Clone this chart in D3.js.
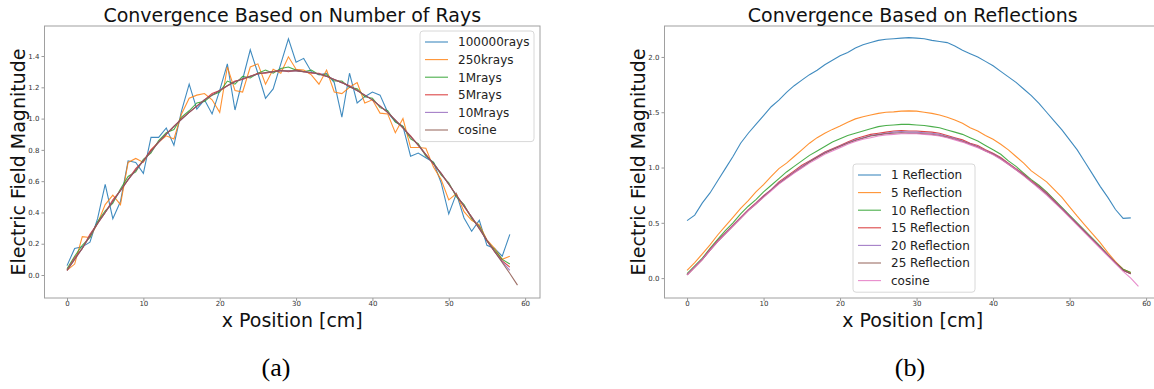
<!DOCTYPE html>
<html>
<head>
<meta charset="utf-8">
<script src="https://d3js.org/d3.v7.min.js"></script>
<style>
  body { margin: 0; background: #fff; }
  svg { display: block; }
</style>
</head>
<body>
<div id="chart"></div>
<script>
// ---- data: electric field magnitude, one value per cm (index = x position) ----

// (a) convergence based on number of rays
const rays100k = [0.06,0.17,0.18,0.21,0.36,0.58,0.36,0.47,0.73,0.72,
  0.65,0.88,0.88,0.94,0.83,1.05,1.22,1.06,1.12,1.03,
  1.18,1.35,1.055,1.25,1.44,1.29,1.13,1.19,1.35,1.51,
  1.36,1.385,1.30,1.28,1.29,1.23,1.01,1.29,1.10,1.14,
  1.17,1.15,1.04,0.98,0.95,0.76,0.78,0.75,0.72,0.59,
  0.39,0.52,0.365,0.28,0.35,0.19,0.17,0.12,0.26];
const rays250k = [0.03,0.07,0.245,0.24,0.33,0.45,0.51,0.45,0.72,0.745,
  0.72,0.80,0.85,0.89,0.87,1.03,1.13,1.15,1.16,1.12,
  1.04,1.33,1.18,1.17,1.33,1.35,1.22,1.315,1.29,1.395,
  1.315,1.31,1.28,1.22,1.31,1.17,1.16,1.20,1.23,1.10,
  1.12,1.035,1.03,0.91,1.0,0.815,0.815,0.81,0.69,0.61,
  0.48,0.52,0.405,0.35,0.32,0.225,0.17,0.10,0.12];
const rays1M = [0.04,0.12,0.19,0.24,0.34,0.41,0.46,0.55,0.63,0.66,
  0.74,0.78,0.86,0.91,0.93,1.01,1.05,1.10,1.11,1.15,
  1.17,1.24,1.22,1.27,1.26,1.29,1.31,1.29,1.32,1.33,
  1.31,1.30,1.31,1.28,1.28,1.24,1.24,1.20,1.19,1.14,
  1.13,1.07,1.05,0.98,0.95,0.87,0.84,0.76,0.72,0.64,
  0.59,0.50,0.45,0.36,0.31,0.22,0.16,0.10,0.07];
const rays5M = [0.03,0.11,0.17,0.26,0.33,0.40,0.48,0.54,0.61,0.68,
  0.73,0.80,0.85,0.90,0.95,1.00,1.04,1.08,1.12,1.16,
  1.18,1.21,1.24,1.25,1.27,1.29,1.29,1.30,1.31,1.30,
  1.31,1.30,1.29,1.29,1.27,1.25,1.23,1.21,1.18,1.15,
  1.12,1.08,1.04,0.99,0.94,0.89,0.83,0.77,0.71,0.65,
  0.58,0.51,0.44,0.37,0.30,0.22,0.15,0.09,0.05];
const rays10M = [0.03,0.10,0.17,0.25,0.33,0.40,0.47,0.54,0.61,0.67,
  0.73,0.79,0.85,0.90,0.95,0.995,1.04,1.08,1.12,1.15,
  1.18,1.21,1.235,1.255,1.27,1.285,1.295,1.30,1.305,1.305,
  1.305,1.30,1.295,1.285,1.27,1.25,1.23,1.205,1.18,1.15,
  1.12,1.08,1.04,0.99,0.94,0.885,0.83,0.77,0.71,0.65,
  0.58,0.51,0.44,0.37,0.30,0.22,0.15,0.085,0.03];
const cosineRef = [0.03,0.10,0.17,0.25,0.33,0.40,0.47,0.54,0.61,0.67,
  0.73,0.79,0.85,0.90,0.95,0.995,1.04,1.08,1.12,1.15,
  1.18,1.21,1.235,1.255,1.27,1.285,1.295,1.30,1.305,1.305,
  1.305,1.30,1.295,1.285,1.27,1.25,1.23,1.205,1.18,1.15,
  1.12,1.08,1.04,0.99,0.94,0.885,0.83,0.77,0.71,0.65,
  0.58,0.51,0.44,0.37,0.295,0.22,0.15,0.08,0.01,-0.065];

// (b) convergence based on reflections
const refl1 = [0.52,0.57,0.68,0.77,0.88,0.99,1.10,1.22,1.31,1.39,
  1.47,1.55,1.61,1.68,1.74,1.79,1.84,1.88,1.93,1.97,
  2.01,2.04,2.08,2.11,2.13,2.15,2.16,2.165,2.17,2.175,
  2.17,2.165,2.15,2.14,2.13,2.10,2.06,2.03,2.00,1.96,
  1.92,1.87,1.82,1.77,1.71,1.65,1.58,1.50,1.42,1.34,
  1.25,1.16,1.05,0.94,0.83,0.73,0.62,0.54,0.545];
const refl5 = [0.07,0.14,0.22,0.30,0.39,0.47,0.55,0.63,0.70,0.78,
  0.845,0.92,0.99,1.04,1.10,1.16,1.22,1.27,1.31,1.345,
  1.375,1.41,1.44,1.46,1.475,1.49,1.50,1.503,1.51,1.512,
  1.51,1.50,1.49,1.475,1.455,1.43,1.40,1.36,1.33,1.29,
  1.255,1.21,1.16,1.10,1.04,0.97,0.92,0.87,0.80,0.73,
  0.645,0.56,0.48,0.40,0.32,0.23,0.15,0.08,0.05];
const refl10 = [0.04,0.11,0.18,0.27,0.35,0.43,0.50,0.58,0.65,0.71,
  0.78,0.84,0.90,0.96,1.01,1.06,1.11,1.15,1.19,1.23,
  1.26,1.29,1.31,1.33,1.35,1.37,1.38,1.385,1.39,1.39,
  1.385,1.38,1.37,1.36,1.34,1.32,1.30,1.27,1.24,1.20,
  1.16,1.12,1.06,1.01,0.95,0.89,0.84,0.78,0.71,0.64,
  0.57,0.50,0.43,0.36,0.29,0.21,0.14,0.08,0.05];
const refl15 = [0.03,0.10,0.17,0.26,0.34,0.41,0.48,0.55,0.62,0.68,
  0.745,0.80,0.87,0.92,0.97,1.02,1.06,1.10,1.14,1.17,
  1.20,1.23,1.26,1.28,1.30,1.31,1.32,1.33,1.335,1.33,
  1.33,1.325,1.32,1.31,1.29,1.27,1.25,1.22,1.20,1.16,
  1.13,1.09,1.04,0.99,0.94,0.88,0.83,0.77,0.70,0.63,
  0.56,0.49,0.42,0.35,0.28,0.21,0.14,0.07,0.04];
const refl20 = [0.03,0.10,0.17,0.255,0.335,0.405,0.475,0.545,0.615,0.675,
  0.74,0.80,0.86,0.91,0.96,1.01,1.055,1.095,1.135,1.165,
  1.195,1.225,1.25,1.27,1.29,1.30,1.31,1.32,1.325,1.32,
  1.32,1.315,1.31,1.30,1.28,1.265,1.24,1.215,1.19,1.155,
  1.125,1.085,1.035,0.985,0.935,0.875,0.825,0.765,0.695,0.63,
  0.56,0.49,0.42,0.35,0.28,0.21,0.14,0.07,0.04];
const refl25 = [0.03,0.10,0.17,0.25,0.33,0.40,0.47,0.54,0.61,0.67,
  0.735,0.795,0.855,0.905,0.955,1.00,1.05,1.09,1.13,1.16,
  1.19,1.22,1.245,1.265,1.285,1.295,1.305,1.31,1.315,1.31,
  1.31,1.305,1.30,1.29,1.275,1.255,1.235,1.21,1.185,1.15,
  1.12,1.08,1.03,0.98,0.93,0.87,0.82,0.76,0.69,0.625,
  0.555,0.485,0.415,0.345,0.275,0.205,0.135,0.07,0.04];
const cosineRefB = [0.03,0.10,0.17,0.25,0.33,0.40,0.47,0.54,0.61,0.67,
  0.73,0.79,0.85,0.90,0.95,0.995,1.04,1.08,1.12,1.15,
  1.18,1.21,1.235,1.255,1.27,1.285,1.295,1.30,1.305,1.305,
  1.305,1.30,1.295,1.285,1.27,1.25,1.23,1.205,1.18,1.15,
  1.115,1.075,1.03,0.98,0.925,0.87,0.81,0.75,0.685,0.62,
  0.55,0.48,0.41,0.34,0.27,0.20,0.13,0.06,0.0,-0.075];

const raysLabels = ["100000rays", "250krays", "1Mrays", "5Mrays", "10Mrays", "cosine"];
const reflLabels = ["1 Reflection", "5 Reflection", "10 Reflection", "15 Reflection",
  "20 Reflection", "25 Reflection", "cosine"];
const xTicks = [0, 10, 20, 30, 40, 50, 60];
const yTicksA = [0.0, 0.2, 0.4, 0.6, 0.8, 1.0, 1.2, 1.4];
const yTicksB = [0.0, 0.5, 1.0, 1.5, 2.0];

// matplotlib default colour cycle
const tab10 = ["#1f77b4", "#ff7f0e", "#2ca02c", "#d62728", "#9467bd", "#8c564b", "#e377c2"];

const svg = d3.select("#chart").append("svg")
    .attr("width", 1154)
    .attr("height", 389);

function drawPanel({
    left, right, top, bottom,   // axes box in pixels
    xDomain, yDomain,           // data limits
    yTicks, yFormat,
    series, labels,             // arrays of values, legend names
    title, caption, captionX,
    legendBox                   // {x, y, w} of legend frame
}) {
    const x = d3.scaleLinear().domain(xDomain).range([left, right]);
    const y = d3.scaleLinear().domain(yDomain).range([bottom, top]);
    const g = svg.append("g");

    // clip lines to the axes box
    const clipId = "clip" + Math.round(left);
    g.append("clipPath").attr("id", clipId)
        .append("rect").attr("x", left).attr("y", top)
        .attr("width", right - left).attr("height", bottom - top);

    const line = d3.line().x((d, i) => x(i)).y(d => y(d));
    g.append("g").attr("clip-path", `url(#${clipId})`)
        .selectAll("path")
        .data(series)
        .enter()
        .append("path")
        .attr("d", line)
        .attr("fill", "none")
        .attr("stroke", (d, i) => tab10[i])
        .attr("stroke-width", 1.1)
        .attr("stroke-opacity", 0.85);

    // axes
    const xAxis = d3.axisBottom(x).tickValues(xTicks).tickSize(3).tickPadding(0);
    const yAxis = d3.axisLeft(y).tickValues(yTicks).tickFormat(d3.format(yFormat)).tickSize(3).tickPadding(2);
    [g.append("g").attr("transform", `translate(0,${bottom})`).call(xAxis),
     g.append("g").attr("transform", `translate(${left},0)`).call(yAxis)].forEach(a => {
        a.select(".domain").remove();
        a.selectAll("line").attr("stroke", "#555").attr("stroke-width", 0.6);
        a.selectAll("text").attr("fill", "#333")
            .style("font-family", "DejaVu Sans").style("font-size", "7px");
    });

    // spines
    g.append("rect")
        .attr("x", left).attr("y", top)
        .attr("width", right - left).attr("height", bottom - top)
        .attr("fill", "none").attr("stroke", "#a0a0a0").attr("stroke-width", 1);

    const mid = (left + right) / 2;
    g.append("text").attr("x", mid).attr("y", 22)
        .attr("text-anchor", "middle")
        .style("font-family", "DejaVu Sans").style("font-size", "19px")
        .attr("fill", "#111").text(title);
    g.append("text").attr("x", mid).attr("y", 327)
        .attr("text-anchor", "middle")
        .style("font-family", "DejaVu Sans").style("font-size", "19px")
        .attr("fill", "#111").text("x Position [cm]");
    g.append("text")
        .attr("transform", `translate(${left - 20},${(top + bottom) / 2}) rotate(-90)`)
        .attr("text-anchor", "middle")
        .style("font-family", "DejaVu Sans").style("font-size", "19px")
        .attr("fill", "#111").text("Electric Field Magnitude");
    svg.append("text").attr("x", captionX).attr("y", 376)
        .attr("text-anchor", "middle")
        .style("font-family", "Liberation Serif").style("font-size", "26px")
        .attr("fill", "#000").text(caption);

    // legend
    const rowH = 17.6;
    const lg = g.append("g").attr("transform", `translate(${legendBox.x},${legendBox.y})`);
    lg.append("rect")
        .attr("width", legendBox.w).attr("height", labels.length * rowH + 5)
        .attr("rx", 3).attr("fill", "#fff").attr("fill-opacity", 0.85)
        .attr("stroke", "#d8d8d8").attr("stroke-width", 1);
    labels.forEach((name, i) => {
        const cy = 11 + i * rowH;
        lg.append("line").attr("x1", 5).attr("x2", 28).attr("y1", cy).attr("y2", cy)
            .attr("stroke", tab10[i]).attr("stroke-width", 1.1).attr("stroke-opacity", 0.85);
        lg.append("text").attr("x", 38).attr("y", cy + 4.3)
            .style("font-family", "DejaVu Sans").style("font-size", "12px")
            .attr("fill", "#222").text(name);
    });
}

drawPanel({
    left: 44.5, right: 540, top: 26, bottom: 298,
    xDomain: [-2.95, 61.95], yDomain: [-0.147, 1.592],
    yTicks: yTicksA, yFormat: ".1f",
    series: [rays100k, rays250k, rays1M, rays5M, rays10M, cosineRef],
    labels: raysLabels,
    title: "Convergence Based on Number of Rays",
    caption: "(a)", captionX: 276,
    legendBox: { x: 420, y: 31, w: 114 }
});

drawPanel({
    left: 664.5, right: 1161, top: 26, bottom: 298,
    xDomain: [-2.95, 61.95], yDomain: [-0.18, 2.28],
    yTicks: yTicksB, yFormat: ".1f",
    series: [refl1, refl5, refl10, refl15, refl20, refl25, cosineRefB],
    labels: reflLabels,
    title: "Convergence Based on Reflections",
    caption: "(b)", captionX: 910,
    legendBox: { x: 853, y: 164, w: 122 }
});
</script>
</body>
</html>
